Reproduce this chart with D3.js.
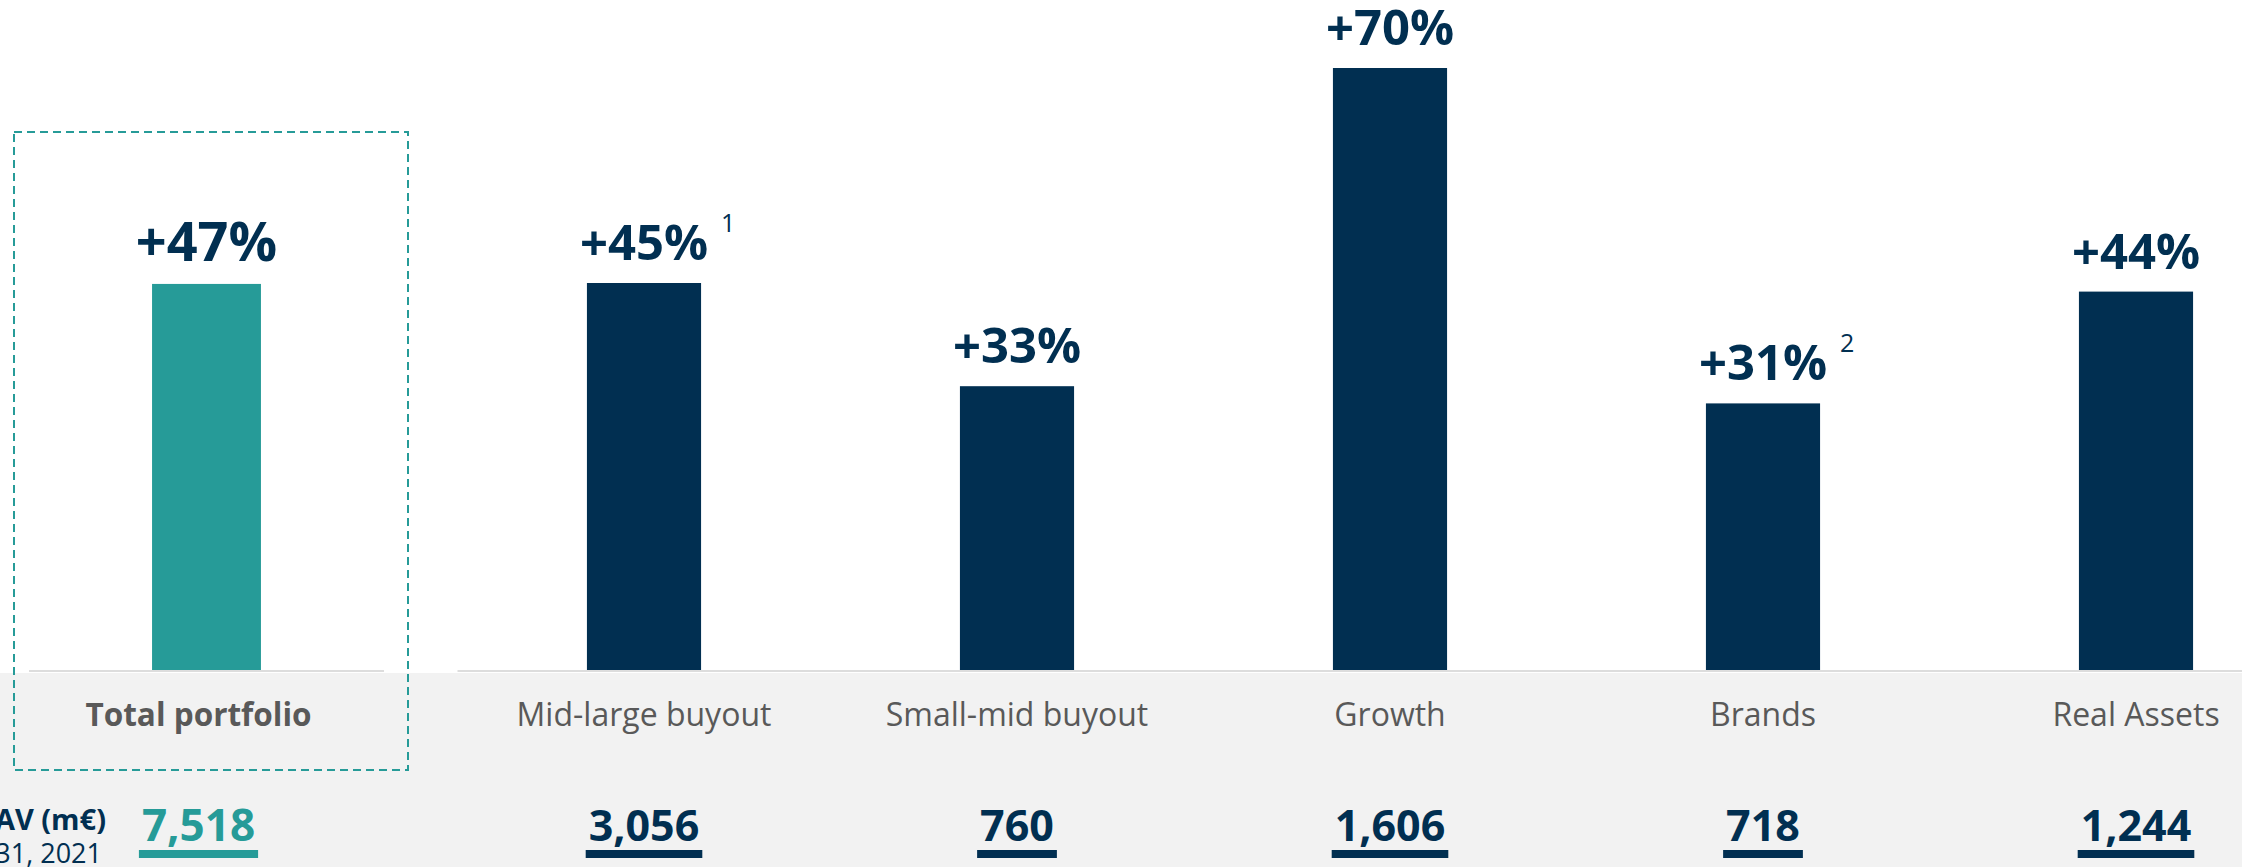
<!DOCTYPE html>
<html>
<head>
<meta charset="utf-8">
<script src="https://cdn.jsdelivr.net/npm/d3@7"></script>
<style>
  html, body { margin: 0; padding: 0; background: #ffffff; }
  svg { display: block; }
  text { font-family: "Open Sans", "Noto Sans", sans-serif; }
</style>
</head>
<body>
<svg id="chart" width="2242" height="867"></svg>
<script>
// Portfolio value creation by segment
const totalCategory = ["Total portfolio"];
const totalGrowth = [47];
const totalNav = [7518];

const segments = ["Mid-large buyout", "Small-mid buyout", "Growth", "Brands", "Real Assets"];
const segmentGrowth = [45, 33, 70, 31, 44];
const segmentNav = [3056, 760, 1606, 718, 1244];
const segmentNotes = ["1", "", "", "2", ""];

const navTitle = "NAV (m€)";
const navDate = "Dec. 31, 2021";

const W = 2242, H = 867;
const baseY = 670;
const navy = "#012f51";
const teal = "#269b98";
const greyText = "#595959";

const svg = d3.select("#chart");

// footer band
svg.append("rect")
  .attr("x", 0).attr("y", baseY + 3)
  .attr("width", W).attr("height", H - baseY - 3)
  .attr("fill", "#f2f2f2");

// scales
const xSeg = d3.scaleBand().domain(segments).range([457.5, 2322.5])
  .paddingInner(0.694).paddingOuter(0.347);
const ySeg = d3.scaleLinear().domain([0, 70]).range([baseY, 68]);

const xTot = d3.scaleBand().domain(totalCategory).range([29, 384]).paddingOuter(1.13);
const yTot = d3.scaleLinear().domain([0, 70]).range([baseY, 95]);

// baselines
svg.append("line").attr("x1", 29).attr("x2", 384).attr("y1", baseY + 1).attr("y2", baseY + 1)
  .attr("stroke", "#dddddd").attr("stroke-width", 2);
svg.append("line").attr("x1", 457.5).attr("x2", W).attr("y1", baseY + 1).attr("y2", baseY + 1)
  .attr("stroke", "#dddddd").attr("stroke-width", 2);

// dashed frame around the total
svg.append("rect")
  .attr("x", 14).attr("y", 132).attr("width", 394).attr("height", 638)
  .attr("fill", "none").attr("stroke", teal).attr("stroke-width", 2)
  .attr("stroke-dasharray", "8,5");

function drawPanel(opts) {
  const { cats, growth, nav, notes, x, y, barColor, catWeight, catSize, textDx,
          labelSize, navSize, navColor } = opts;
  const g = svg.append("g");
  const data = cats.map((c, i) => ({ c, v: growth[i], n: nav[i], note: notes ? notes[i] : "" }));

  g.selectAll("rect.bar").data(data).join("rect")
    .attr("class", "bar")
    .attr("x", d => x(d.c))
    .attr("y", d => y(d.v))
    .attr("width", x.bandwidth())
    .attr("height", d => y(0) - y(d.v))
    .attr("fill", barColor);

  const lbl = g.selectAll("text.pct").data(data).join("text")
    .attr("class", "pct")
    .attr("x", d => x(d.c) + x.bandwidth() / 2)
    .attr("y", d => y(d.v) - 23)
    .attr("text-anchor", "middle")
    .attr("font-weight", 700)
    .attr("font-size", labelSize)
    .attr("fill", navy)
    .text(d => "+" + d.v + "%");

  lbl.each(function(d) {
    if (!d.note) return;
    const bb = this.getBBox();
    g.append("text")
      .attr("x", bb.x + bb.width + 13)
      .attr("y", y(d.v) - 23 - 28)
      .attr("font-size", 25)
      .attr("fill", navy)
      .text(d.note);
  });

  g.selectAll("text.cat").data(data).join("text")
    .attr("class", "cat")
    .attr("x", d => x(d.c) + x.bandwidth() / 2 + textDx)
    .attr("y", 726)
    .attr("text-anchor", "middle")
    .attr("font-size", catSize)
    .attr("font-weight", catWeight)
    .attr("fill", greyText)
    .text(d => d.c);

  const fmt = d3.format(",");
  g.selectAll("text.nav").data(data).join("text")
    .attr("class", "nav")
    .attr("x", d => x(d.c) + x.bandwidth() / 2 + textDx)
    .attr("y", 841)
    .attr("text-anchor", "middle")
    .attr("font-size", navSize)
    .attr("font-weight", 700)
    .attr("fill", navColor)
    .text(d => fmt(d.n))
    .each(function() {
      const bb = this.getBBox();
      g.append("rect")
        .attr("x", bb.x - 3).attr("y", 850)
        .attr("width", bb.width + 6).attr("height", 8)
        .attr("fill", navColor);
    });
}

drawPanel({ cats: totalCategory, growth: totalGrowth, nav: totalNav, notes: null,
  x: xTot, y: yTot, barColor: teal, catWeight: 700, catSize: 31.5, textDx: -8,
  labelSize: 54, navSize: 44, navColor: teal });
drawPanel({ cats: segments, growth: segmentGrowth, nav: segmentNav, notes: segmentNotes,
  x: xSeg, y: ySeg, barColor: navy, catWeight: 400, catSize: 32, textDx: 0,
  labelSize: 49, navSize: 43, navColor: navy });

// NAV row caption
svg.append("text").attr("x", 106).attr("y", 830).attr("text-anchor", "end")
  .attr("font-size", 29).attr("font-weight", 700).attr("fill", navy).text(navTitle);
svg.append("text").attr("x", 102).attr("y", 863).attr("text-anchor", "end")
  .attr("font-size", 27).attr("fill", navy).text(navDate);
</script>
</body>
</html>
